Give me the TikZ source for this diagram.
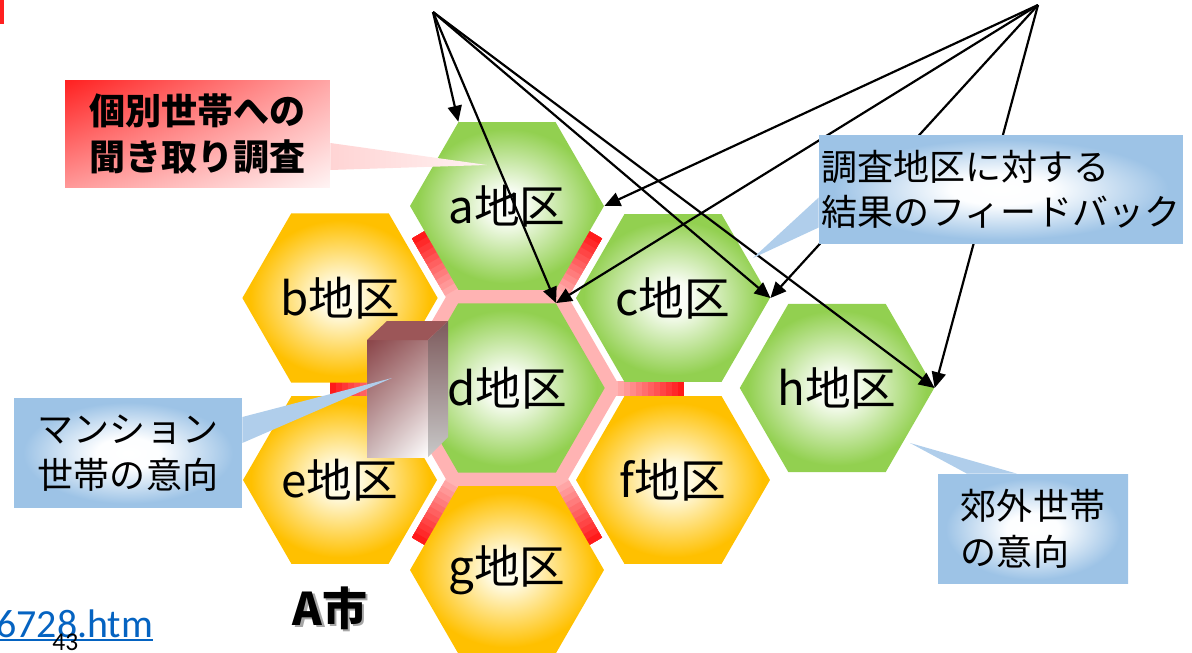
\documentclass[tikz,border=0pt]{standalone}
\usepackage{fontspec}
\setmainfont{Noto Sans CJK JP}
\newfontfamily\linkfont{Carlito}
\usetikzlibrary{arrows.meta,shapes.geometric,calc,backgrounds,shadings}
\definecolor{ringpink}{HTML}{FFB3B3}
\definecolor{roadred}{HTML}{FF1A1A}
\definecolor{notered}{HTML}{FF2020}
\definecolor{tailblue}{HTML}{B0CEEB}
\definecolor{tailpinkdark}{HTML}{FFD4D4}
\definecolor{tailpinklight}{HTML}{FFF2F2}
\definecolor{linkblue}{HTML}{0563C1}
\definecolor{bldgtop}{HTML}{9C5658}
\definecolor{bldgdark}{HTML}{8A4448}
\definecolor{bldgmid}{HTML}{A97A7C}
\definecolor{bldglight}{HTML}{CDB9BA}
\definecolor{bldgside}{HTML}{7D5A5C}
\definecolor{bldgpale}{HTML}{C8C8C8}
\pgfdeclareradialshading{greenglow}{\pgfpoint{0bp}{0bp}}{rgb(0bp)=(1,1,1);rgb(5bp)=(0.97,0.99,0.95);rgb(23bp)=(0.573,0.816,0.314);rgb(50bp)=(0.573,0.816,0.314)}
\pgfdeclareradialshading{orangeglow}{\pgfpoint{0bp}{0bp}}{rgb(0bp)=(1,1,0.96);rgb(5bp)=(1,0.98,0.88);rgb(23bp)=(1,0.753,0);rgb(50bp)=(1,0.753,0)}
\pgfdeclareradialshading{blueglow}{\pgfpoint{0bp}{0bp}}{rgb(0bp)=(1,1,1);rgb(7bp)=(0.99,0.995,1);rgb(23bp)=(0.616,0.765,0.902);rgb(50bp)=(0.616,0.765,0.902)}
\tikzset{
  district/.style={regular polygon,regular polygon sides=6,minimum size=3.88cm,inner sep=0pt,shade,font=\fontsize{26}{26}\selectfont},
  green district/.style={district,shading=greenglow},
  orange district/.style={district,shading=orangeglow},
  note/.style={shade,shading=blueglow,inner sep=0pt,align=left,font=\fontsize{20.5}{26}\selectfont},
  tail/.style={fill=tailblue},
  fbarrow/.style={-{Triangle[length=9pt,width=8pt]},line width=1.25pt},
  road/.style={line width=0.3cm}
}

\begin{document}
\begin{tikzpicture}[x=0.02cm,y=-0.02cm]
    \useasboundingbox (0,0) rectangle (1192,652);
    \fill[notered] (0,0) rectangle (4,24);
    % districts of the city
    \node[green district] (a) at (507,206) {a地区};
    \node[orange district] (b) at (340,298) {b地区};
    \node[green district] (c) at (673,298) {c地区};
    \node[green district] (d) at (507,388) {d地区};
    \node[orange district] (e) at (340,480) {e地区};
    \node[orange district] (f) at (673,480) {f地区};
    \node[orange district] (g) at (507,570) {g地区};
    \node[green district] (h) at (837,388) {h地区};
    % roads round d, fading to red outwards
    \begin{scope}[on background layer]
      \draw[road,ringpink,line join=miter] ($(d)+(0:105)$) \foreach \ang in {60,120,...,300}{ -- ($(d)+(\ang:105)$)} -- cycle;
      \foreach \ang in {0,60,...,300}
        \foreach \k in {0,...,11}{
          \pgfmathsetmacro\rr{105+6*\k}
          \pgfmathtruncatemacro\pct{100*\k/11}
          \draw[road,roadred!\pct!ringpink] ($(d)+(\ang:\rr)$) -- ($(d)+(\ang:177)$);
        }
    \end{scope}
    % apartment block
    \shade[upper left=bldgdark,upper right=bldgmid,lower left=bldglight,lower right=white] (367,340) rectangle (428,457);
    \fill[bldgtop] (367,340) -- (387,321) -- (448,321) -- (428,340) -- cycle;
    \shade[top color=bldgside,bottom color=bldgpale] (428,340) -- (448,321) -- (448,437) -- (428,457) -- cycle;
    % feedback arrows
    \coordinate (hq1) at (433,12);
    \coordinate (hq2) at (1038,5);
    \foreach \t in {a.120,d.60,c.0,h.0} \draw[fbarrow] (hq1) -- (\t);
    \foreach \t in {a.0,d.60,c.0,h.0} \draw[fbarrow] (hq2) -- (\t);
    % callouts
    \node[shade,upper left=notered,upper right=red!35,lower left=red!40,lower right=red!4,minimum width=5.3cm,minimum height=2.16cm,inner sep=0pt,align=left,font=\bfseries\fontsize{20.5}{26}\selectfont] (interview) at (197.5,134) {個別世帯への\\聞き取り調査};
    \shade[left color=tailpinkdark,right color=tailpinklight] ($(interview.east)+(0,9)$) -- (487,165) -- ($(interview.east)+(0,36)$) -- cycle;
    \node[note,minimum width=7.28cm,minimum height=2.18cm] (survey) at (1001,189.5) {調査地区に対する\\結果のフィードバック};
    \fill[tail] ($(survey.west)+(0,8)$) -- (753,258) -- ($(survey.west)+(0,38)$) -- cycle;
    \node[note,minimum width=4.56cm,minimum height=2.2cm] (mansion) at (128,453) {マンション\\世帯の意向};
    \fill[tail] ($(mansion.east)+(0,-36)$) -- (392,378) -- ($(mansion.east)+(0,-10)$) -- cycle;
    \node[note,minimum width=3.8cm,minimum height=2.2cm] (suburb) at (1033,529) {郊外世帯\\の意向};
    \fill[tail] ($(suburb.north)+(-66,0)$) -- (910,443) -- ($(suburb.north)+(-16,0)$) -- cycle;
    % city name with shadow
    \node[font=\bfseries\fontsize{25.6}{26}\selectfont,text=black!35] (cityshadow) at (332.5,610.5) {A市};
    \node[font=\bfseries\fontsize{25.6}{26}\selectfont] (city) at (330,608) {A市};
    % link and page number
    \node[anchor=base west,inner sep=0pt,font=\linkfont\fontsize{22.7}{24}\selectfont,text=linkblue] (link) at (-4,637) {6728.htm};
    \draw[linkblue,line width=1.1pt] ($(link.base west)+(0,3)$) -- ($(link.base east)+(0,3)$);
    \node[anchor=base west,inner sep=0pt,font=\linkfont\fontsize{14.5}{15}\selectfont] (pageno) at (52,650) {43};
\end{tikzpicture}
\end{document}
